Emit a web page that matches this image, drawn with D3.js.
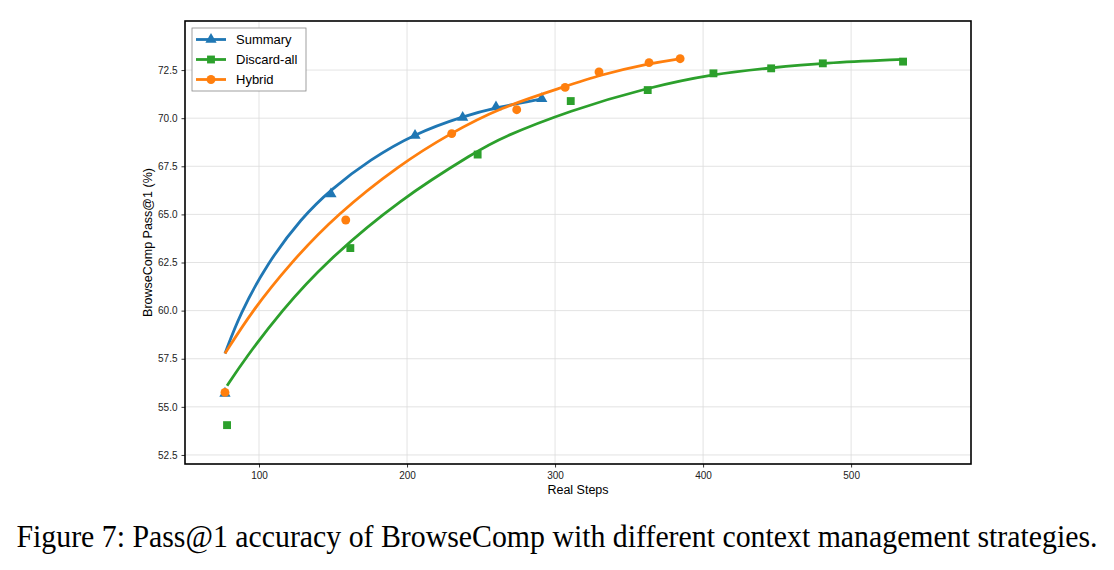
<!DOCTYPE html>
<html>
<head>
<meta charset="utf-8">
<script src="https://cdn.jsdelivr.net/npm/d3@7"></script>
<style>
  body { margin: 0; background: #fff; }
  svg { display: block; }
  .tick text { font-family: "Liberation Sans", Arial, sans-serif; font-size: 10px; fill: #222; }
</style>
</head>
<body>
<div id="chart"></div>
<script>
// measured points (Real Steps, Pass@1 %)
var summarySteps = [77, 148.6, 205.4, 237.6, 260.1, 291];
var summaryAcc = [55.7, 66.06, 69.1, 70.04, 70.58, 71.01];

var discardSteps = [78.4, 161.7, 247.7, 310.6, 362.6, 407, 446, 480.9, 535.1];
var discardAcc = [54.05, 63.25, 68.11, 70.89, 71.46, 72.33, 72.59, 72.85, 72.94];

var hybridSteps = [77, 158.6, 230.2, 274.1, 306.8, 329.7, 363.5, 384.5];
var hybridAcc = [55.75, 64.71, 69.2, 70.44, 71.6, 72.4, 72.89, 73.09];

// fitted trend curves
var summaryFitX = [77, 87, 105, 129, 148.6, 175, 205.4, 238, 260.6, 291];
var summaryFitY = [57.77, 59.8, 62.4, 64.85, 66.3, 67.85, 69.2, 70.1, 70.56, 71.0];

var discardFitX = [78.4, 90.5, 115.3, 144.6, 195.3, 247.6, 262.8, 310, 363, 407, 446, 481, 535.4];
var discardFitY = [56.1, 57.5, 60.0, 62.5, 65.8, 68.3, 68.96, 70.4, 71.6, 72.3, 72.62, 72.87, 73.06];

var hybridFitX = [77, 95, 120.9, 152.5, 195.3, 229, 262.8, 305.6, 330.4, 363, 384.5];
var hybridFitY = [57.77, 59.95, 62.45, 65.0, 67.6, 69.2, 70.55, 71.62, 72.25, 72.84, 73.09];

var xTicks = [100, 200, 300, 400, 500];
var yTicks = [52.5, 55.0, 57.5, 60.0, 62.5, 65.0, 67.5, 70.0, 72.5];

var series = [
    { name: "Summary", color: "#1f77b4", marker: "triangle", xs: summarySteps, ys: summaryAcc, fx: summaryFitX, fy: summaryFitY },
    { name: "Discard-all", color: "#2ca02c", marker: "square", xs: discardSteps, ys: discardAcc, fx: discardFitX, fy: discardFitY },
    { name: "Hybrid", color: "#ff7f0e", marker: "circle", xs: hybridSteps, ys: hybridAcc, fx: hybridFitX, fy: hybridFitY }
];

var W = 1114, H = 570;
var margin = { top: 21, right: 143, bottom: 106, left: 185 };

var svg = d3.select("#chart").append("svg")
    .attr("width", W)
    .attr("height", H);

var x = d3.scaleLinear().domain([50, 581]).range([margin.left, W - margin.right]);
var y = d3.scaleLinear().domain([52.03, 75.05]).range([H - margin.bottom, margin.top]);

var clipId = "plotclip";
svg.append("clipPath").attr("id", clipId)
    .append("rect")
    .attr("x", x.range()[0]).attr("y", y.range()[1])
    .attr("width", x.range()[1] - x.range()[0])
    .attr("height", y.range()[0] - y.range()[1]);

// grid
var grid = svg.append("g").attr("stroke", "#dcdcdc").attr("stroke-width", 0.8);
grid.selectAll(".gx").data(xTicks).enter().append("line")
    .attr("x1", function (d) { return x(d); }).attr("x2", function (d) { return x(d); })
    .attr("y1", y.range()[0]).attr("y2", y.range()[1]);
grid.selectAll(".gy").data(yTicks).enter().append("line")
    .attr("y1", function (d) { return y(d); }).attr("y2", function (d) { return y(d); })
    .attr("x1", x.range()[0]).attr("x2", x.range()[1]);

// axes
var xAxis = svg.append("g")
    .attr("transform", "translate(0," + y.range()[0] + ")")
    .call(d3.axisBottom(x).tickValues(xTicks).tickSize(3.5).tickPadding(4).tickFormat(d3.format("d")));
var yAxis = svg.append("g")
    .attr("transform", "translate(" + x.range()[0] + ",0)")
    .call(d3.axisLeft(y).tickValues(yTicks).tickSize(3.5).tickPadding(4).tickFormat(d3.format(".1f")));
[xAxis, yAxis].forEach(function (a) {
    a.select(".domain").remove();
    a.selectAll(".tick line").attr("stroke", "#000").attr("stroke-width", 0.8);
});

var plot = svg.append("g").attr("clip-path", "url(#" + clipId + ")");

var line = d3.line()
    .x(function (d) { return x(d[0]); })
    .y(function (d) { return y(d[1]); })
    .curve(d3.curveBasis);

var symbols = {
    triangle: d3.symbol().type(d3.symbolTriangle).size(55),
    square: d3.symbol().type(d3.symbolSquare).size(62),
    circle: d3.symbol().type(d3.symbolCircle).size(62)
};

series.forEach(function (s) {
    var pts = d3.zip(s.xs, s.ys);
    plot.selectAll(null).data(pts).enter().append("path")
        .attr("d", symbols[s.marker])
        .attr("transform", function (d) { return "translate(" + x(d[0]) + "," + y(d[1]) + ")"; })
        .attr("fill", s.color);
    plot.append("path")
        .datum(d3.zip(s.fx, s.fy))
        .attr("d", line)
        .attr("fill", "none")
        .attr("stroke", s.color)
        .attr("stroke-width", 2.8)
        .attr("stroke-linecap", "butt");
});

// frame
svg.append("rect")
    .attr("x", x.range()[0]).attr("y", y.range()[1])
    .attr("width", x.range()[1] - x.range()[0])
    .attr("height", y.range()[0] - y.range()[1])
    .attr("fill", "none").attr("stroke", "#000").attr("stroke-width", 1.6);

// axis labels
svg.append("text")
    .attr("x", (x.range()[0] + x.range()[1]) / 2)
    .attr("y", 494)
    .attr("text-anchor", "middle")
    .style("font-family", "Liberation Sans, Arial, sans-serif")
    .style("font-size", "12.5px")
    .text("Real Steps");

svg.append("text")
    .attr("transform", "translate(152," + ((y.range()[0] + y.range()[1]) / 2) + ") rotate(-90)")
    .attr("text-anchor", "middle")
    .style("font-family", "Liberation Sans, Arial, sans-serif")
    .style("font-size", "12.5px")
    .text("BrowseComp Pass@1 (%)");

// legend
var lg = svg.append("g").attr("transform", "translate(192,28)");
lg.append("rect")
    .attr("width", 114).attr("height", 63)
    .attr("fill", "#fff").attr("stroke", "#888").attr("stroke-width", 0.8);
series.forEach(function (s, i) {
    var ly = 11.5 + i * 20;
    lg.append("line")
        .attr("x1", 4).attr("x2", 34).attr("y1", ly).attr("y2", ly)
        .attr("stroke", s.color).attr("stroke-width", 2.8);
    lg.append("path")
        .attr("d", symbols[s.marker])
        .attr("transform", "translate(19," + ly + ")")
        .attr("fill", s.color);
    lg.append("text")
        .attr("x", 44).attr("y", ly + 4.5)
        .style("font-family", "Liberation Sans, Arial, sans-serif")
        .style("font-size", "13px")
        .text(s.name);
});

// caption (narrow serif: stretch vertically instead of widening)
svg.append("text")
    .attr("transform", "translate(16.5,547) scale(1,1.15)")
    .attr("textLength", 1081)
    .attr("lengthAdjust", "spacingAndGlyphs")
    .style("font-family", "Liberation Serif, Times New Roman, serif")
    .style("font-size", "27px")
    .text("Figure 7: Pass@1 accuracy of BrowseComp with different context management strategies.");
</script>
</body>
</html>
